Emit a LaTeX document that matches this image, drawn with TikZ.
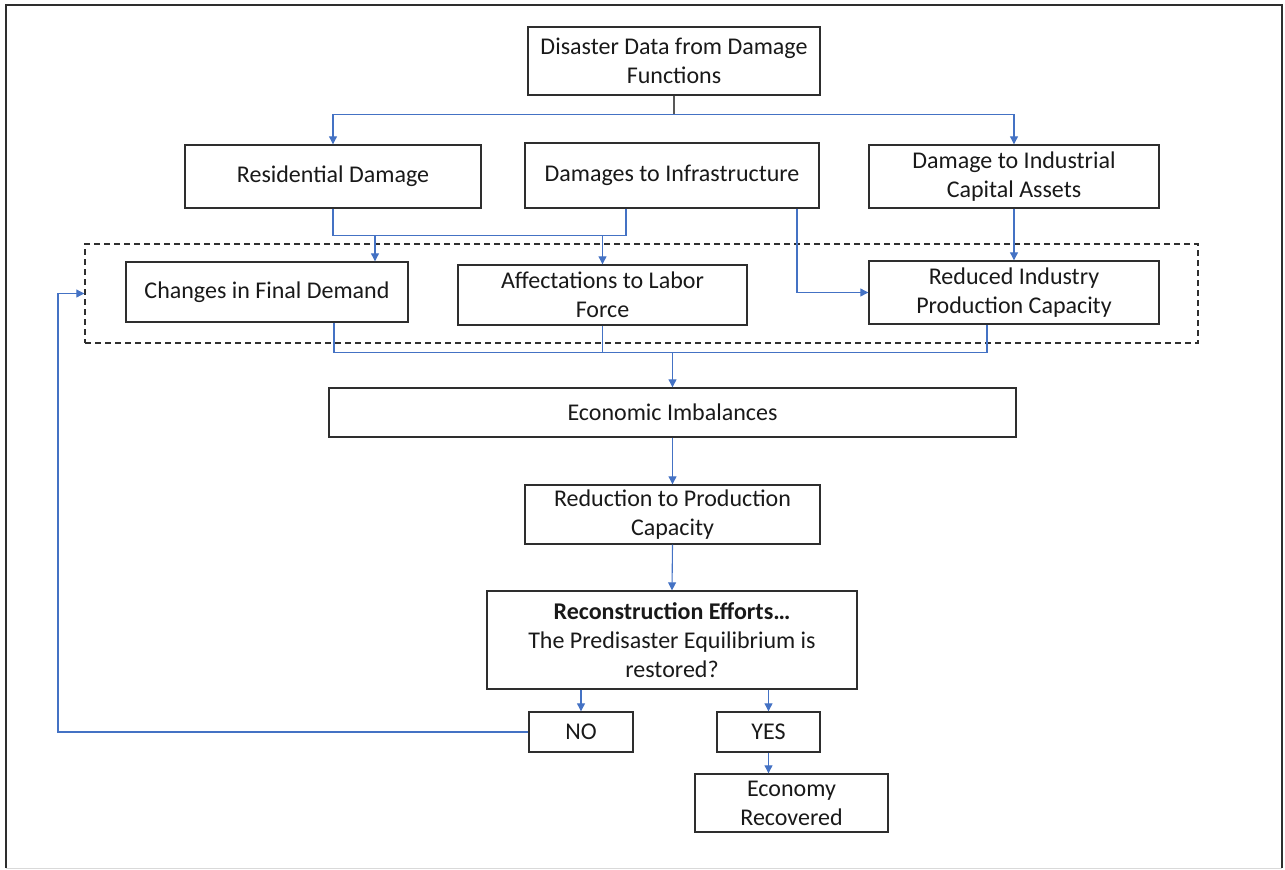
\documentclass[tikz,border=0pt]{standalone}
\usepackage{fontspec}
\setmainfont{Carlito}
\usetikzlibrary{arrows.meta,calc}
\definecolor{lineblue}{HTML}{4472C4}
\definecolor{boxgray}{HTML}{2E2E2E}
\tikzset{
  box/.style={draw=boxgray, line width=1.4pt, rectangle, inner sep=0pt, align=center,
    font=\fontsize{24}{29}\selectfont, text=black!90},
  conn/.style={draw=lineblue, line width=1.1pt},
  arr/.style={conn, -{Triangle[width=8pt,length=8pt]}},
  dashbox/.style={draw=boxgray, line width=1.4pt, dash pattern=on 6pt off 4pt, rectangle, inner sep=0pt}
}
\begin{document}
\begin{tikzpicture}[x=1pt,y=-1pt]
\useasboundingbox (0,0) rectangle (1285,870);
% frame
\draw[boxgray, line width=1.6pt] (6,868) -- (6,5) -- (1282,5) -- (1282,868);
\draw[black!15, line width=1pt] (6,868) -- (1282,868);

% dashed group
\node[dashbox, minimum width=1113pt, minimum height=99pt] (grp) at (641.5,293.5) {};

% nodes
\node[box, minimum width=292pt, minimum height=68pt] (dis) at (674,61) {Disaster Data from Damage\\Functions};
\node[box, minimum width=296pt, minimum height=63pt] (res) at (333,176.5) {Residential Damage};
\node[box, minimum width=294pt, minimum height=65pt] (inf) at (672,175.5) {Damages to Infrastructure};
\node[box, minimum width=290pt, minimum height=63pt] (ind) at (1014,176.5) {Damage to Industrial\\Capital Assets};
\node[box, minimum width=282pt, minimum height=60pt] (chg) at (267,292) {Changes in Final Demand};
\node[box, minimum width=289pt, minimum height=60pt] (lab) at (602.5,295) {Affectations to Labor\\Force};
\node[box, minimum width=290pt, minimum height=63pt] (red) at (1014,292.5) {Reduced Industry\\Production Capacity};
\node[box, minimum width=687pt, minimum height=49pt] (eco) at (672.5,412.5) {Economic Imbalances};
\node[box, minimum width=295pt, minimum height=59pt] (rpc) at (672.5,514.5) {Reduction to Production\\Capacity};
\node[box, minimum width=370pt, minimum height=98pt] (rec) at (672,640) {\textbf{Reconstruction Efforts…}\\The Predisaster Equilibrium is\\restored?};
\node[box, minimum width=104pt, minimum height=40pt] (no) at (581,732) {NO};
\node[box, minimum width=103pt, minimum height=40pt] (yes) at (768.5,732) {YES};
\node[box, minimum width=193pt, minimum height=58pt] (ecr) at (791.5,803) {Economy\\Recovered};

% top split
\path (dis.south) ++(0,19) coordinate (j1);
\draw[draw=boxgray!80, line width=1.1pt] (dis.south) -- (j1);
\draw[arr] (j1) -| (res.north);
\draw[arr] (j1) -| (ind.north);

% residential + infrastructure merge
\path (res.south) ++(0,27) coordinate (m1);
\coordinate (infL) at ([xshift=-46pt]inf.south);
\draw[conn] (res.south) -- (m1) -| (infL);
\draw[arr] ([xshift=108pt]chg.north |- m1) -- ([xshift=108pt]chg.north);
\draw[arr] (lab.north |- m1) -- (lab.north);

% infrastructure to reduced capacity
\draw[arr] ([xshift=125pt]inf.south) |- (red.west);
% industrial to reduced capacity
\draw[arr] (ind.south) -- (red.north);

% bottom merge
\path (eco.north) ++(0,-35) coordinate (m2);
\draw[conn] ([xshift=67pt]chg.south) |- (m2) -| ([xshift=-27pt]red.south);
\draw[conn] (lab.south) -- (lab.south |- m2);
\draw[arr] (m2) -- (eco.north);

% main chain
\draw[arr] (eco.south) -- (rpc.north);
\draw[arr] (rpc.south) -- (rec.north);
\draw[arr] (rec.south -| no.north) -- (no.north);
\draw[arr] (rec.south -| yes.north) -- (yes.north);
\draw[arr] (yes.south) -- (yes.south |- ecr.north);

% feedback loop
\coordinate (fb) at (58,732);
\draw[arr] (no.west) -- (fb) |- (grp.west);
\end{tikzpicture}
\end{document}
